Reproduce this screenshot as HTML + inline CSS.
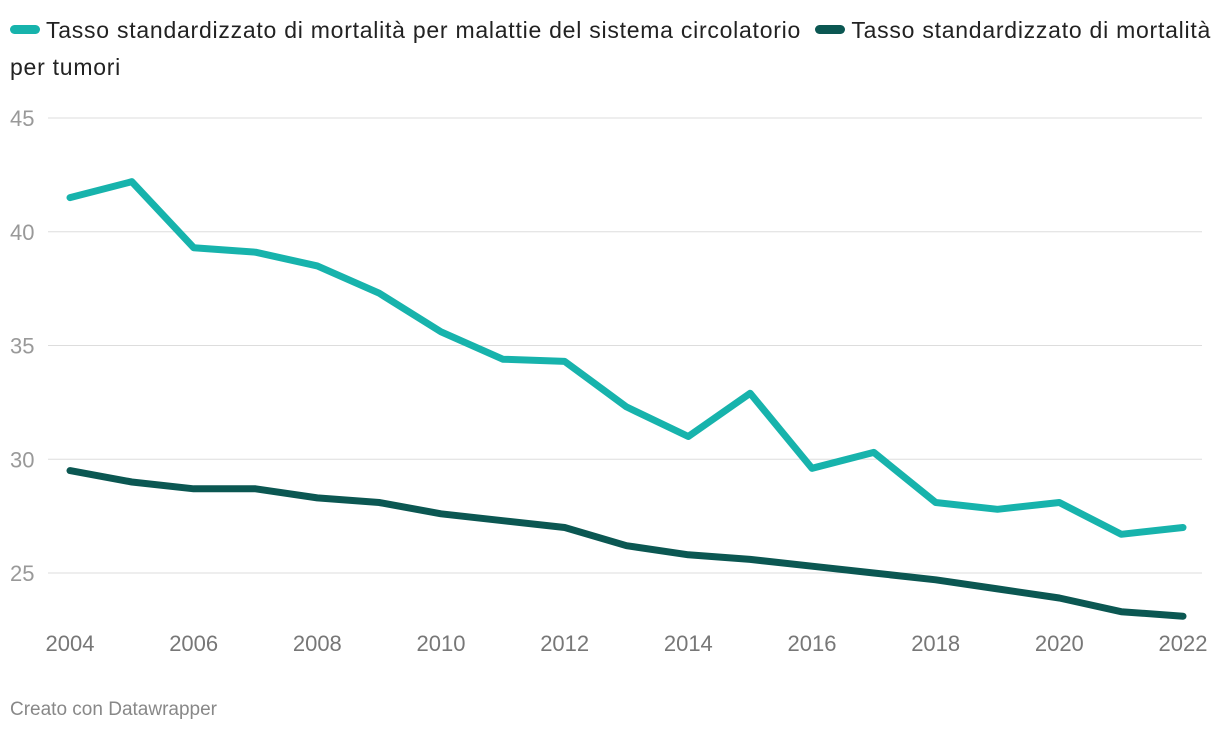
<!DOCTYPE html>
<html><head><meta charset="utf-8">
<style>
body{margin:0;background:#fff;width:1220px;height:736px;overflow:hidden;font-family:"Liberation Sans",sans-serif;}
.legend{position:absolute;left:10px;top:12px;width:1215px;font-size:23px;color:#222;line-height:37px;white-space:nowrap;letter-spacing:0.75px;}
.sw{display:inline-block;width:30px;height:9px;border-radius:5px;vertical-align:middle;margin-right:6px;position:relative;top:-2px;}
.foot{position:absolute;left:10px;top:699px;font-size:19px;color:#888;}
</style></head><body>
<div class="legend">
<span><span class="sw" style="background:#17b3ac"></span>Tasso standardizzato di mortalità per malattie del sistema circolatorio</span>&nbsp;
<span><span class="sw" style="background:#0b5752"></span>Tasso standardizzato di mortalità<br>per tumori</span>
</div>
<svg id="chart" width="1220" height="736" style="position:absolute;left:0;top:0"></svg>
<div class="foot">Creato con Datawrapper</div>
<script>
const years=[2004,2005,2006,2007,2008,2009,2010,2011,2012,2013,2014,2015,2016,2017,2018,2019,2020,2021,2022];
const circulatory=[41.5,42.2,39.3,39.1,38.5,37.3,35.6,34.4,34.3,32.3,31.0,32.9,29.6,30.3,28.1,27.8,28.1,26.7,27.0];
const tumors=[29.5,29.0,28.7,28.7,28.3,28.1,27.6,27.3,27.0,26.2,25.8,25.6,25.3,25.0,24.7,24.3,23.9,23.3,23.1];
const yTicks=[25,30,35,40,45];
const xTicks=[2004,2006,2008,2010,2012,2014,2016,2018,2020,2022];
const NS="http://www.w3.org/2000/svg";
const svg=document.getElementById('chart');
const x=v=>70+(v-2004)*(1183-70)/18;
const y=v=>573-(v-25)*(573-118)/20;
function mk(t,a){const e=document.createElementNS(NS,t);for(const k in a)e.setAttribute(k,a[k]);svg.appendChild(e);return e;}
yTicks.forEach(t=>{
 const l=mk('line',{x1:48,x2:1202,y1:y(t),y2:y(t),stroke:'#ddd','stroke-width':1});
 
 
 const tx=mk('text',{x:10,y:y(t)+8,'font-size':22,fill:'#999','font-family':'Liberation Sans, sans-serif'});
 tx.textContent=t;
 
 
});
xTicks.forEach(t=>{
 const tx=mk('text',{x:x(t),y:651,'font-size':22,fill:'#777','text-anchor':'middle','font-family':'Liberation Sans, sans-serif'});
 tx.textContent=t;
 
 
});
function line(vals,color,name){
 const d=vals.map((v,i)=>(i?'L':'M')+x(years[i]).toFixed(1)+','+y(v).toFixed(1)).join(' ');
 const p=mk('path',{d:d,fill:'none',stroke:color,'stroke-width':7,'stroke-linejoin':'round','stroke-linecap':'round'});
 
 
}
line(tumors,'#0b5752','tumors-line');
line(circulatory,'#17b3ac','circulatory-line');
</script>
</body></html>
